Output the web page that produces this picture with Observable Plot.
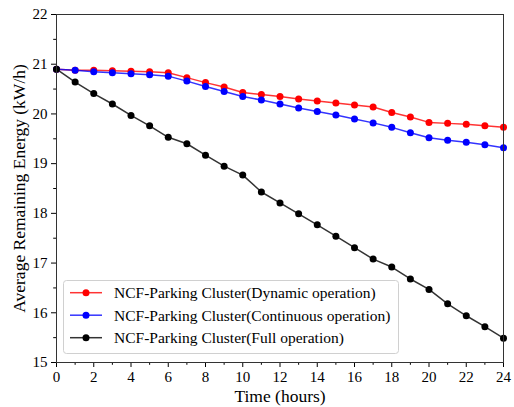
<!DOCTYPE html>
<html><head><meta charset="utf-8">
<script src="https://cdn.jsdelivr.net/npm/d3@7"></script>
<script src="https://cdn.jsdelivr.net/npm/@observablehq/plot@0.6"></script>
<style>
html,body{margin:0;padding:0;background:#fff;font-family:"Liberation Serif";}
#wrap{position:relative;width:514px;height:407px;overflow:hidden;}
#legend{position:absolute;left:0;top:0;pointer-events:none;}
</style></head><body><div id="wrap"></div>
<script>
const hours = [0,1,2,3,4,5,6,7,8,9,10,11,12,13,14,15,16,17,18,19,20,21,22,23,24];
const dynamicOp = [20.90,20.88,20.88,20.87,20.86,20.85,20.83,20.73,20.63,20.54,20.43,20.39,20.35,20.30,20.26,20.22,20.18,20.14,20.03,19.94,19.83,19.81,19.79,19.76,19.73];
const continuousOp = [20.90,20.88,20.85,20.83,20.81,20.79,20.76,20.66,20.55,20.45,20.35,20.28,20.20,20.12,20.05,19.98,19.90,19.82,19.73,19.62,19.52,19.47,19.43,19.38,19.32];
const fullOp = [20.90,20.64,20.41,20.20,19.97,19.76,19.53,19.40,19.17,18.95,18.77,18.43,18.21,17.99,17.77,17.54,17.31,17.08,16.92,16.68,16.47,16.18,15.94,15.72,15.49];
const seriesNames = ["NCF-Parking Cluster(Dynamic operation)", "NCF-Parking Cluster(Continuous operation)", "NCF-Parking Cluster(Full operation)"];
const seriesColors = ["#ff0000", "#0000ff", "#000000"];
const xTicks = [0,2,4,6,8,10,12,14,16,18,20,22,24];
const xMinorTicks = [1,3,5,7,9,11,13,15,17,19,21,23];
const yTicks = [15,16,17,18,19,20,21,22];
const yMinorTicks = [15.5,16.5,17.5,18.5,19.5,20.5,21.5];
const xLabel = "Time (hours)";
const yLabel = "Average Remaining Energy (kW/h)";

const seriesValues = [dynamicOp, continuousOp, fullOp];
const data = seriesValues.flatMap((vals, i) => vals.map((v, j) => ({hour: hours[j], value: v, series: seriesNames[i]})));

const font = "Liberation Serif";
const chart = Plot.plot({
  width: 514, height: 407,
  marginLeft: 56, marginRight: 11, marginTop: 14, marginBottom: 45,
  style: {fontFamily: font, fontSize: "15px", color: "#000", background: "#fff"},
  x: {domain: [0, 24]},
  y: {domain: [15, 22]},
  color: {domain: seriesNames, range: seriesColors},
  marks: [
    Plot.axisX(xTicks, {tickSize: 5, tickPadding: 4, label: null, tickFormat: d => String(d)}),
    Plot.axisX(xMinorTicks, {tickSize: 2.8, label: null, tickFormat: () => ""}),
    Plot.axisY(yTicks, {tickSize: 5, tickPadding: 4, label: null, tickFormat: d => String(d)}),
    Plot.axisY(yMinorTicks, {tickSize: 2.8, label: null, tickFormat: () => ""}),
    Plot.line(data, {x: "hour", y: "value", z: "series", stroke: "series", strokeWidth: 1.5, strokeOpacity: 0.8}),
    Plot.dot(data, {x: "hour", y: "value", fill: "series", r: 3.5}),
    Plot.frame({stroke: "#333", strokeWidth: 1}),
    Plot.text([xLabel], {frameAnchor: "bottom", dy: 33.4, lineAnchor: "middle", fontSize: 17.5}),
    Plot.text([yLabel], {frameAnchor: "left", dx: -37.5, rotate: -90, textAnchor: "middle", lineAnchor: "middle", fontSize: 17.5})
  ]
});
const wrap = document.getElementById("wrap");
wrap.appendChild(chart);

// Legend overlay
const leg = d3.select(wrap).append("svg").attr("id", "legend")
  .attr("width", 514).attr("height", 407)
  .attr("font-family", font);
leg.append("rect").attr("x", 63.5).attr("y", 280.5).attr("width", 335).attr("height", 73)
  .attr("rx", 3).attr("fill", "#fff").attr("fill-opacity", 0.8).attr("stroke", "#d0d0d0");
const rows = leg.selectAll("g.row").data(seriesNames).join("g")
  .attr("class", "row")
  .attr("transform", (d, i) => `translate(0,${292.7 + 22.5 * i})`);
rows.append("line").attr("x1", 70).attr("x2", 102).attr("y1", 0).attr("y2", 0)
  .attr("stroke", (d, i) => seriesColors[i]).attr("stroke-width", 1.5).attr("stroke-opacity", 0.8);
rows.append("circle").attr("cx", 86).attr("cy", 0).attr("r", 3.5)
  .attr("fill", (d, i) => seriesColors[i]);
rows.append("text").attr("x", 114).attr("y", 5.3).attr("font-size", 15.5).attr("fill", "#000")
  .attr("font-family", font)
  .text(d => d);
</script></body></html>
